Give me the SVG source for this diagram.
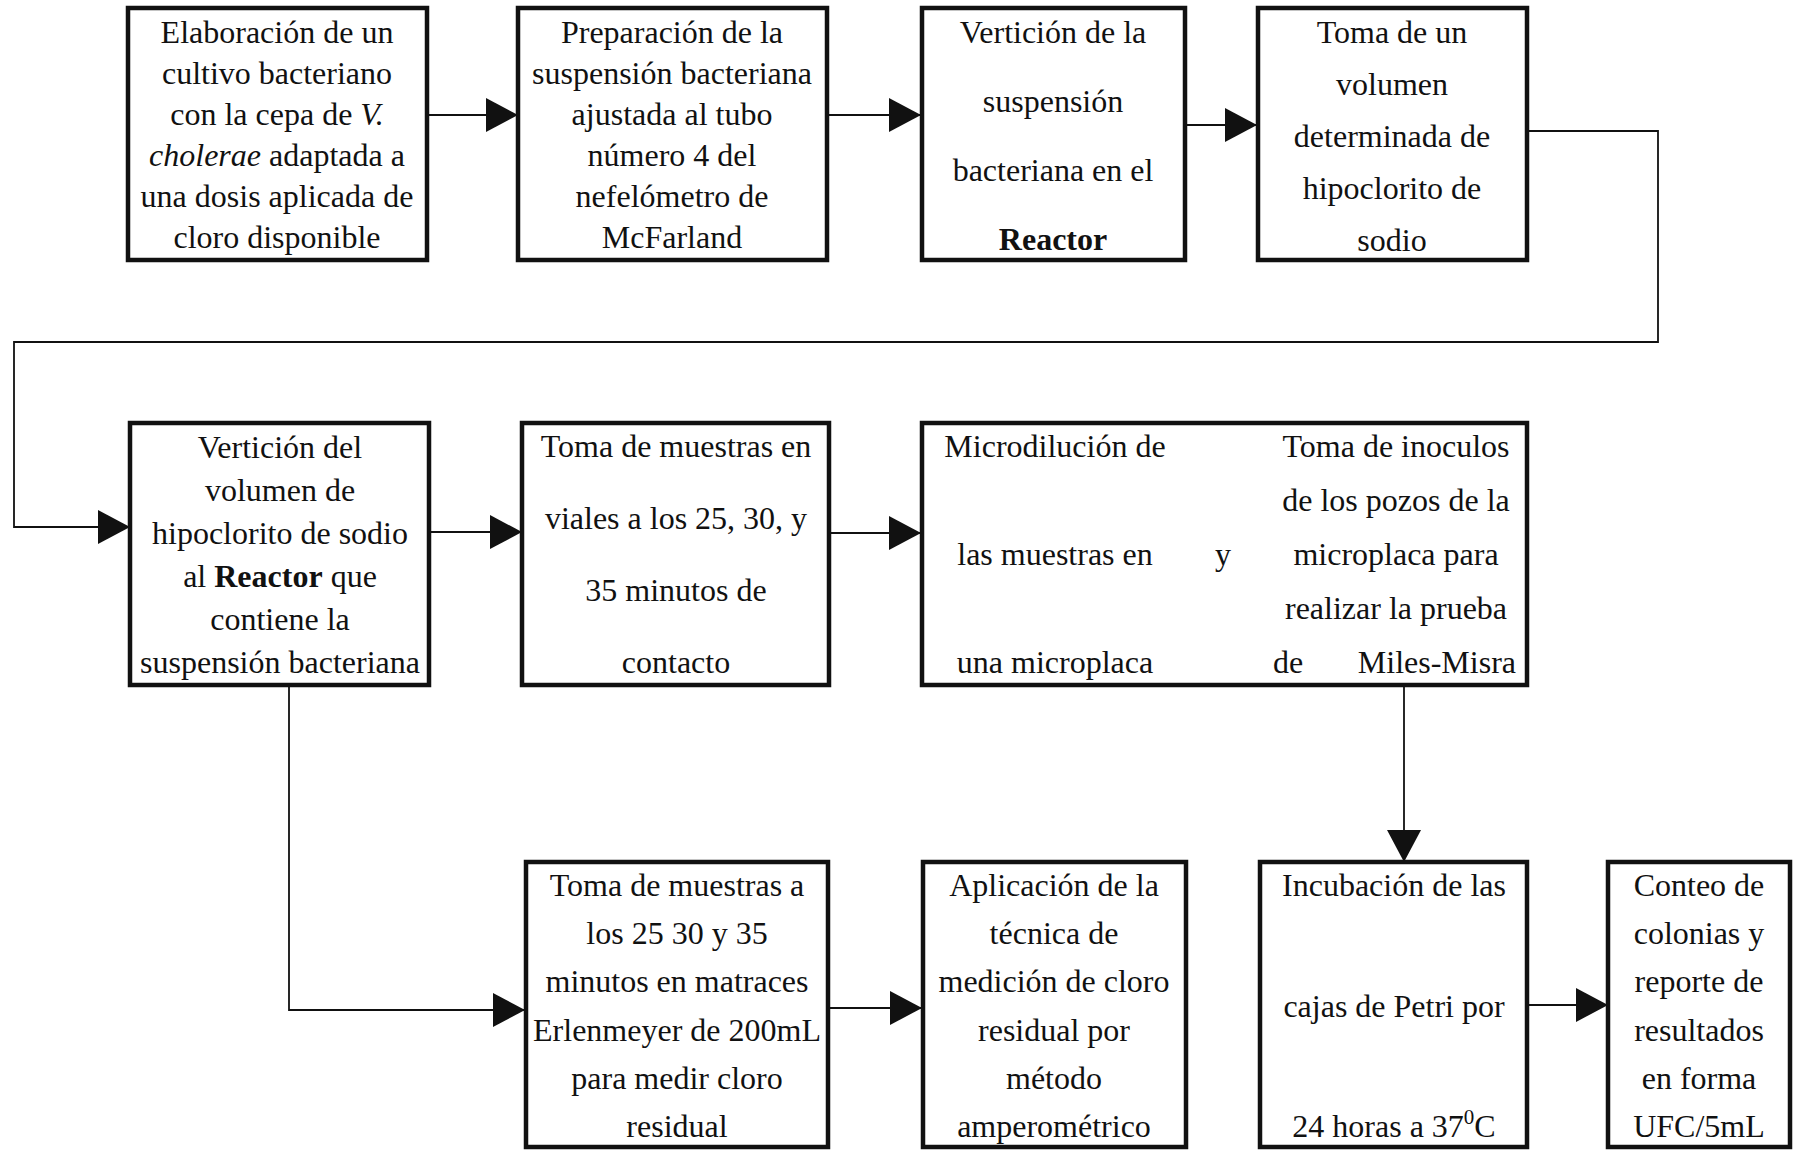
<svg xmlns="http://www.w3.org/2000/svg" width="1795" height="1152" viewBox="0 0 1795 1152">
<defs>
<style>
.box{fill:#fff;stroke:#111;stroke-width:4.5}
.t{font-family:"Liberation Serif","Times New Roman",serif;font-size:32px;fill:#111;text-anchor:middle}
.s{text-anchor:start}
.e{text-anchor:end}
.b{font-weight:bold}
.i{font-style:italic}
.c{fill:none;stroke:#111;stroke-width:1.8}
</style>
<marker id="ah" markerUnits="userSpaceOnUse" markerWidth="32" markerHeight="34" refX="31" refY="17" orient="auto">
<path d="M0,0 L32,17 L0,34 Z" fill="#111"/>
</marker>
</defs>
<rect width="1795" height="1152" fill="#fff"/>
<g id="connectors">
<path class="c" d="M428,115 H517" marker-end="url(#ah)"/>
<path class="c" d="M828,115 H920" marker-end="url(#ah)"/>
<path class="c" d="M1185,125 H1256" marker-end="url(#ah)"/>
<path class="c" d="M1528,131 H1658 V342 H14 V527 H129" marker-end="url(#ah)"/>
<path class="c" d="M430,532 H521" marker-end="url(#ah)"/>
<path class="c" d="M830,533 H920" marker-end="url(#ah)"/>
<path class="c" d="M289,687 V1010 H524" marker-end="url(#ah)"/>
<path class="c" d="M830,1008 H921" marker-end="url(#ah)"/>
<path class="c" d="M1404,686 V861" marker-end="url(#ah)"/>
<path class="c" d="M1529,1005 H1607" marker-end="url(#ah)"/>
</g>
<g id="n1">
<rect class="box" x="128" y="8" width="299" height="252"/>
<text class="t" x="277" y="43">Elaboración de un</text>
<text class="t" x="277" y="84">cultivo bacteriano</text>
<text class="t" x="277" y="125">con la cepa de <tspan class="i">V.</tspan></text>
<text class="t" x="277" y="166"><tspan class="i">cholerae</tspan>  adaptada a</text>
<text class="t" x="277" y="207">una dosis aplicada de</text>
<text class="t" x="277" y="248">cloro disponible</text>
</g>
<g id="n2">
<rect class="box" x="518" y="8" width="309" height="252"/>
<text class="t" x="672" y="43">Preparación de la</text>
<text class="t" x="672" y="84">suspensión bacteriana</text>
<text class="t" x="672" y="125">ajustada al tubo</text>
<text class="t" x="672" y="166">número 4 del</text>
<text class="t" x="672" y="207">nefelómetro de</text>
<text class="t" x="672" y="248">McFarland</text>
</g>
<g id="n3">
<rect class="box" x="922" y="8" width="263" height="252"/>
<text class="t" x="1053" y="43">Vertición de la</text>
<text class="t" x="1053" y="112">suspensión</text>
<text class="t" x="1053" y="181">bacteriana en el</text>
<text class="t b" x="1053" y="250">Reactor</text>
</g>
<g id="n4">
<rect class="box" x="1258" y="8" width="269" height="252"/>
<text class="t" x="1392" y="43">Toma de un</text>
<text class="t" x="1392" y="95">volumen</text>
<text class="t" x="1392" y="147">determinada de</text>
<text class="t" x="1392" y="199">hipoclorito de</text>
<text class="t" x="1392" y="251">sodio</text>
</g>
<g id="n5">
<rect class="box" x="130" y="423" width="299" height="262"/>
<text class="t" x="280" y="458">Vertición del</text>
<text class="t" x="280" y="501">volumen de</text>
<text class="t" x="280" y="544">hipoclorito de sodio</text>
<text class="t" x="280" y="587">al <tspan class="b">Reactor</tspan> que</text>
<text class="t" x="280" y="630">contiene la</text>
<text class="t" x="280" y="673">suspensión bacteriana</text>
</g>
<g id="n6">
<rect class="box" x="522" y="423" width="307" height="262"/>
<text class="t" x="676" y="457">Toma de muestras en</text>
<text class="t" x="676" y="529">viales a los 25, 30, y</text>
<text class="t" x="676" y="601">35 minutos de</text>
<text class="t" x="676" y="673">contacto</text>
</g>
<g id="n7">
<rect class="box" x="922" y="423" width="605" height="262"/>
<text class="t" x="1055" y="457">Microdilución de</text>
<text class="t" x="1055" y="565">las muestras en</text>
<text class="t" x="1055" y="673">una microplaca</text>
<text class="t" x="1223" y="565">y</text>
<text class="t" x="1396" y="457">Toma de inoculos</text>
<text class="t" x="1396" y="511">de los pozos de la</text>
<text class="t" x="1396" y="565">microplaca para</text>
<text class="t" x="1396" y="619">realizar la prueba</text>
<text class="t s" x="1273" y="673">de</text>
<text class="t e" x="1516" y="673">Miles-Misra</text>
</g>
<g id="n8">
<rect class="box" x="526" y="862" width="302" height="285"/>
<text class="t" x="677" y="896">Toma de muestras a</text>
<text class="t" x="677" y="944">los 25 30 y 35</text>
<text class="t" x="677" y="992">minutos en matraces</text>
<text class="t" x="677" y="1041">Erlenmeyer de 200mL</text>
<text class="t" x="677" y="1089">para medir cloro</text>
<text class="t" x="677" y="1137">residual</text>
</g>
<g id="n9">
<rect class="box" x="923" y="862" width="263" height="285"/>
<text class="t" x="1054" y="896">Aplicación de la</text>
<text class="t" x="1054" y="944">técnica de</text>
<text class="t" x="1054" y="992">medición de cloro</text>
<text class="t" x="1054" y="1041">residual por</text>
<text class="t" x="1054" y="1089">método</text>
<text class="t" x="1054" y="1137">amperométrico</text>
</g>
<g id="n10">
<rect class="box" x="1260" y="862" width="267" height="285"/>
<text class="t" x="1394" y="896">Incubación de las</text>
<text class="t" x="1394" y="1017">cajas de Petri por</text>
<text class="t" x="1394" y="1137">24 horas a 37<tspan font-size="21" dy="-13">0</tspan><tspan dy="13">C</tspan></text>
</g>
<g id="n11">
<rect class="box" x="1608" y="862" width="182" height="285"/>
<text class="t" x="1699" y="896">Conteo de</text>
<text class="t" x="1699" y="944">colonias y</text>
<text class="t" x="1699" y="992">reporte de</text>
<text class="t" x="1699" y="1041">resultados</text>
<text class="t" x="1699" y="1089">en forma</text>
<text class="t" x="1699" y="1137">UFC/5mL</text>
</g>
</svg>
